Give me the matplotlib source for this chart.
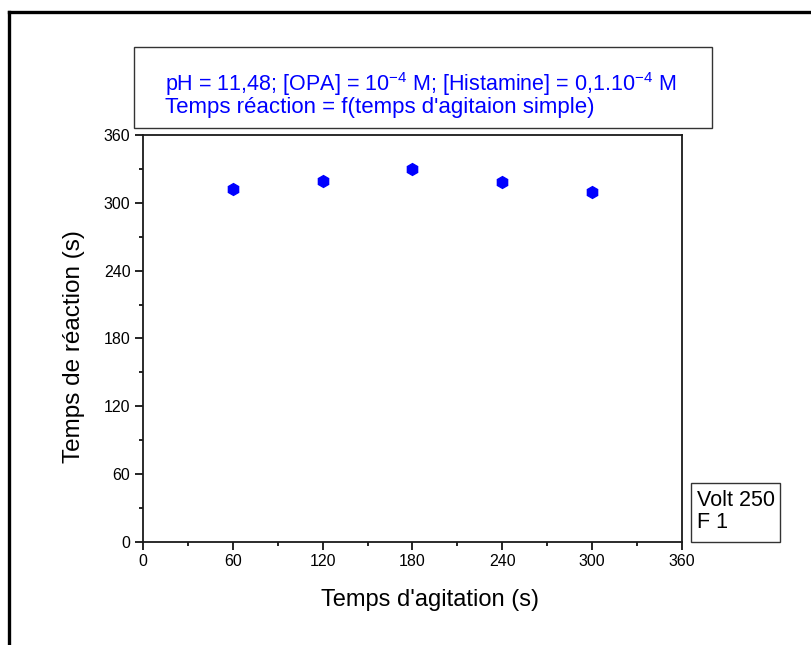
import matplotlib
matplotlib.use("Agg")
import matplotlib.pyplot as plt
from matplotlib.lines import Line2D
from matplotlib.patches import Rectangle
from matplotlib.ticker import MultipleLocator

plt.rcParams['font.family'] = ['Liberation Sans', 'DejaVu Sans']

# data
agitation = [60, 120, 180, 240, 300]
reaction = [312, 319, 330, 318, 310]
ticks = [0, 60, 120, 180, 240, 300, 360]

fig = plt.figure(figsize=(8.11, 6.45), dpi=100)
ax = fig.add_axes([0.1763, 0.1597, 0.6646, 0.631])

ax.plot(agitation, reaction, linestyle='none', marker='h', markersize=8.5,
        color='#0000ff', markeredgecolor='#0000ff')

ax.set_xlim(0, 360)
ax.set_ylim(0, 360)
ax.set_xticks(ticks)
ax.set_yticks(ticks)
ax.xaxis.set_minor_locator(MultipleLocator(30))
ax.yaxis.set_minor_locator(MultipleLocator(30))
ax.tick_params(which='major', direction='out', length=6, width=1.2, labelsize=11.5, pad=3)
ax.tick_params(which='minor', direction='out', length=3, width=1.2)
for s in ax.spines.values():
    s.set_linewidth(1.3)
    s.set_color('#1a1a1a')

ax.set_xlabel("Temps d'agitation (s)", fontsize=17)
ax.set_ylabel("Temps de réaction (s)", fontsize=17.5)
ax.xaxis.set_label_coords(0.532, -0.115)
ax.yaxis.set_label_coords(-0.108, 0.479)

# title box
fig.add_artist(Rectangle((134 / 811, 1 - 128 / 645), 578 / 811, 81 / 645,
                         transform=fig.transFigure, facecolor='white',
                         edgecolor='#333333', linewidth=1.0))
fig.text(165 / 811, 1 - 84 / 645,
         r"pH = 11,48; [OPA] = 10$^{\mathregular{-4}}$ M; [Histamine] = 0,1.10$^{\mathregular{-4}}$ M",
         color='#0000ff', fontsize=15.5, va='center', ha='left')
fig.text(165 / 811, 1 - 108 / 645, "Temps réaction = f(temps d'agitaion simple)",
         color='#0000ff', fontsize=16, va='center', ha='left')

# Volt box
fig.add_artist(Rectangle((691 / 811, 1 - 542 / 645), 89 / 811, 59 / 645,
                         transform=fig.transFigure, facecolor='white',
                         edgecolor='#333333', linewidth=1.0))
fig.text(697 / 811, 1 - 500 / 645, "Volt 250", fontsize=15.5, va='center', ha='left')
fig.text(697 / 811, 1 - 522 / 645, "F 1", fontsize=15.5, va='center', ha='left')

# outer frame (left and top edges)
fig.add_artist(Line2D([8.5 / 811, 8.5 / 811], [0, 1 - 11.5 / 645],
                      transform=fig.transFigure, color='black', linewidth=2.4))
fig.add_artist(Line2D([8.5 / 811, 1], [1 - 11.5 / 645, 1 - 11.5 / 645],
                      transform=fig.transFigure, color='black', linewidth=2.4))

fig.savefig("out.png", dpi=100)
